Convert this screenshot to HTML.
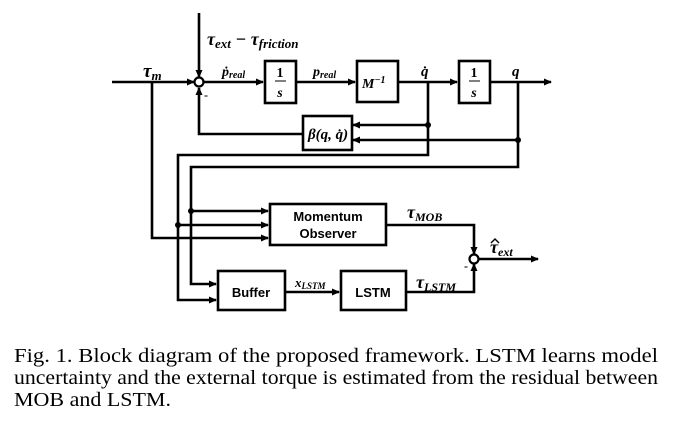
<!DOCTYPE html><html><head><meta charset="utf-8"><style>
body{margin:0;background:#fff;width:688px;height:440px;overflow:hidden}
svg text{font-family:"Liberation Serif",serif}
</style></head><body>
<svg width="688" height="440" viewBox="0 0 688 440">
<defs><marker id="a" markerWidth="8" markerHeight="8" refX="7" refY="4" orient="auto" markerUnits="userSpaceOnUse"><path d="M0,0.5 L8,4 L0,7.5z" fill="#000"/></marker></defs>
<g stroke="#000" stroke-width="2.6" fill="none">
<line x1="112" y1="82" x2="194" y2="82" marker-end="url(#a)"/>
<line x1="199" y1="13" x2="199" y2="77" marker-end="url(#a)"/>
<circle cx="199" cy="82" r="4.5" stroke-width="2.2" fill="#fff"/>
<line x1="204" y1="82" x2="263" y2="82" marker-end="url(#a)"/>
<rect x="265" y="61" width="31" height="42"/>
<line x1="296" y1="82" x2="355" y2="82" marker-end="url(#a)"/>
<rect x="357" y="61" width="41" height="41"/>
<line x1="398" y1="82" x2="457" y2="82" marker-end="url(#a)"/>
<rect x="459" y="61" width="31" height="42"/>
<line x1="490" y1="82" x2="551" y2="82" marker-end="url(#a)"/>
<rect x="303" y="116" width="49" height="34"/>
<polyline points="428,82 428,125 353,125" marker-end="url(#a)"/>
<polyline points="518,82 518,140 353,140" marker-end="url(#a)"/>
<polyline points="303,134 199,134 199,88" marker-end="url(#a)"/>
<polyline points="428,125 428,155 178,155 178,300 216,300" marker-end="url(#a)"/>
<polyline points="518,140 518,167 191,167 191,284 216,284" marker-end="url(#a)"/>
<polyline points="152,82 152,238 268,238" marker-end="url(#a)"/>
<line x1="191" y1="211" x2="268" y2="211" marker-end="url(#a)"/>
<line x1="178" y1="225" x2="268" y2="225" marker-end="url(#a)"/>
<rect x="270" y="204" width="116" height="41"/>
<rect x="218" y="271" width="67" height="39"/>
<rect x="341" y="271" width="65" height="39"/>
<line x1="285" y1="292" x2="339" y2="292" marker-end="url(#a)"/>
<polyline points="386,225 474,225 474,254" marker-end="url(#a)"/>
<polyline points="406,292 474,292 474,264" marker-end="url(#a)"/>
<circle cx="474" cy="259" r="4.5" stroke-width="2.2" fill="#fff"/>
<line x1="479" y1="259" x2="538" y2="259" marker-end="url(#a)"/>
</g>
<g fill="#000">
<circle cx="428" cy="125" r="3"/><circle cx="518" cy="140" r="3"/>
<circle cx="191" cy="211" r="3"/><circle cx="178" cy="225" r="3"/>
</g>
<g font-weight="bold" font-style="italic" fill="#000">
<text x="207" y="45" font-size="18">τ<tspan font-size="13" dy="3">ext</tspan><tspan dy="-3"> − τ</tspan><tspan font-size="13" dy="3">friction</tspan></text>
<text x="143" y="77" font-size="19">τ<tspan font-size="13" dy="3">m</tspan></text>
<text x="222" y="76" font-size="14">ṗ<tspan font-size="10" dy="2">real</tspan></text>
<text x="313" y="76" font-size="14">p<tspan font-size="10" dy="2">real</tspan></text>
<text x="362" y="88" font-size="14">M<tspan font-size="10" dy="-5">−1</tspan></text>
<text x="421" y="76" font-size="15">q̇</text>
<text x="512" y="76" font-size="15">q</text>
<text x="308" y="139" font-size="15">β(q, q̇)</text>
<text x="407" y="218" font-size="18">τ<tspan font-size="12" dy="3">MOB</tspan></text>
<text x="490" y="253" font-size="18">τ<tspan font-size="12" dy="3">ext</tspan></text>
<path d="M491,243 L495,239 L499,243" stroke="#000" stroke-width="1.4" fill="none"/>
<text x="295" y="287" font-size="13">x<tspan font-size="9" dy="2">LSTM</tspan></text>
<text x="416" y="288" font-size="18">τ<tspan font-size="12" dy="3">LSTM</tspan></text>
</g>
<g font-size="14" font-weight="bold" fill="#000" text-anchor="middle">
<text x="280" y="77">1</text><line x1="275" y1="81" x2="286" y2="81" stroke="#000" stroke-width="1"/><text x="280" y="97" font-style="italic">s</text>
<text x="474" y="77">1</text><line x1="469" y1="81" x2="480" y2="81" stroke="#000" stroke-width="1"/><text x="474" y="97" font-style="italic">s</text>
</g>
<g font-weight="bold" font-size="13" fill="#000" text-anchor="middle">
<text x="328" y="221" style="font-family:'Liberation Sans',sans-serif">Momentum</text>
<text x="328" y="238" style="font-family:'Liberation Sans',sans-serif">Observer</text>
<text x="251" y="297" style="font-family:'Liberation Sans',sans-serif">Buffer</text>
<text x="373" y="297" style="font-family:'Liberation Sans',sans-serif">LSTM</text>
</g>
<text x="204" y="99" font-size="12" font-weight="bold">-</text>
<text x="464" y="270" font-size="12" font-weight="bold">-</text>
<g font-size="20" fill="#000">
<text x="14" y="362" textLength="644" lengthAdjust="spacingAndGlyphs">Fig. 1.   Block diagram of the proposed framework. LSTM learns model</text>
<text x="14" y="384" textLength="644" lengthAdjust="spacingAndGlyphs">uncertainty and the external torque is estimated from the residual between</text>
<text x="14" y="406" textLength="157" lengthAdjust="spacingAndGlyphs">MOB and LSTM.</text>
</g>
</svg>
</body></html>
